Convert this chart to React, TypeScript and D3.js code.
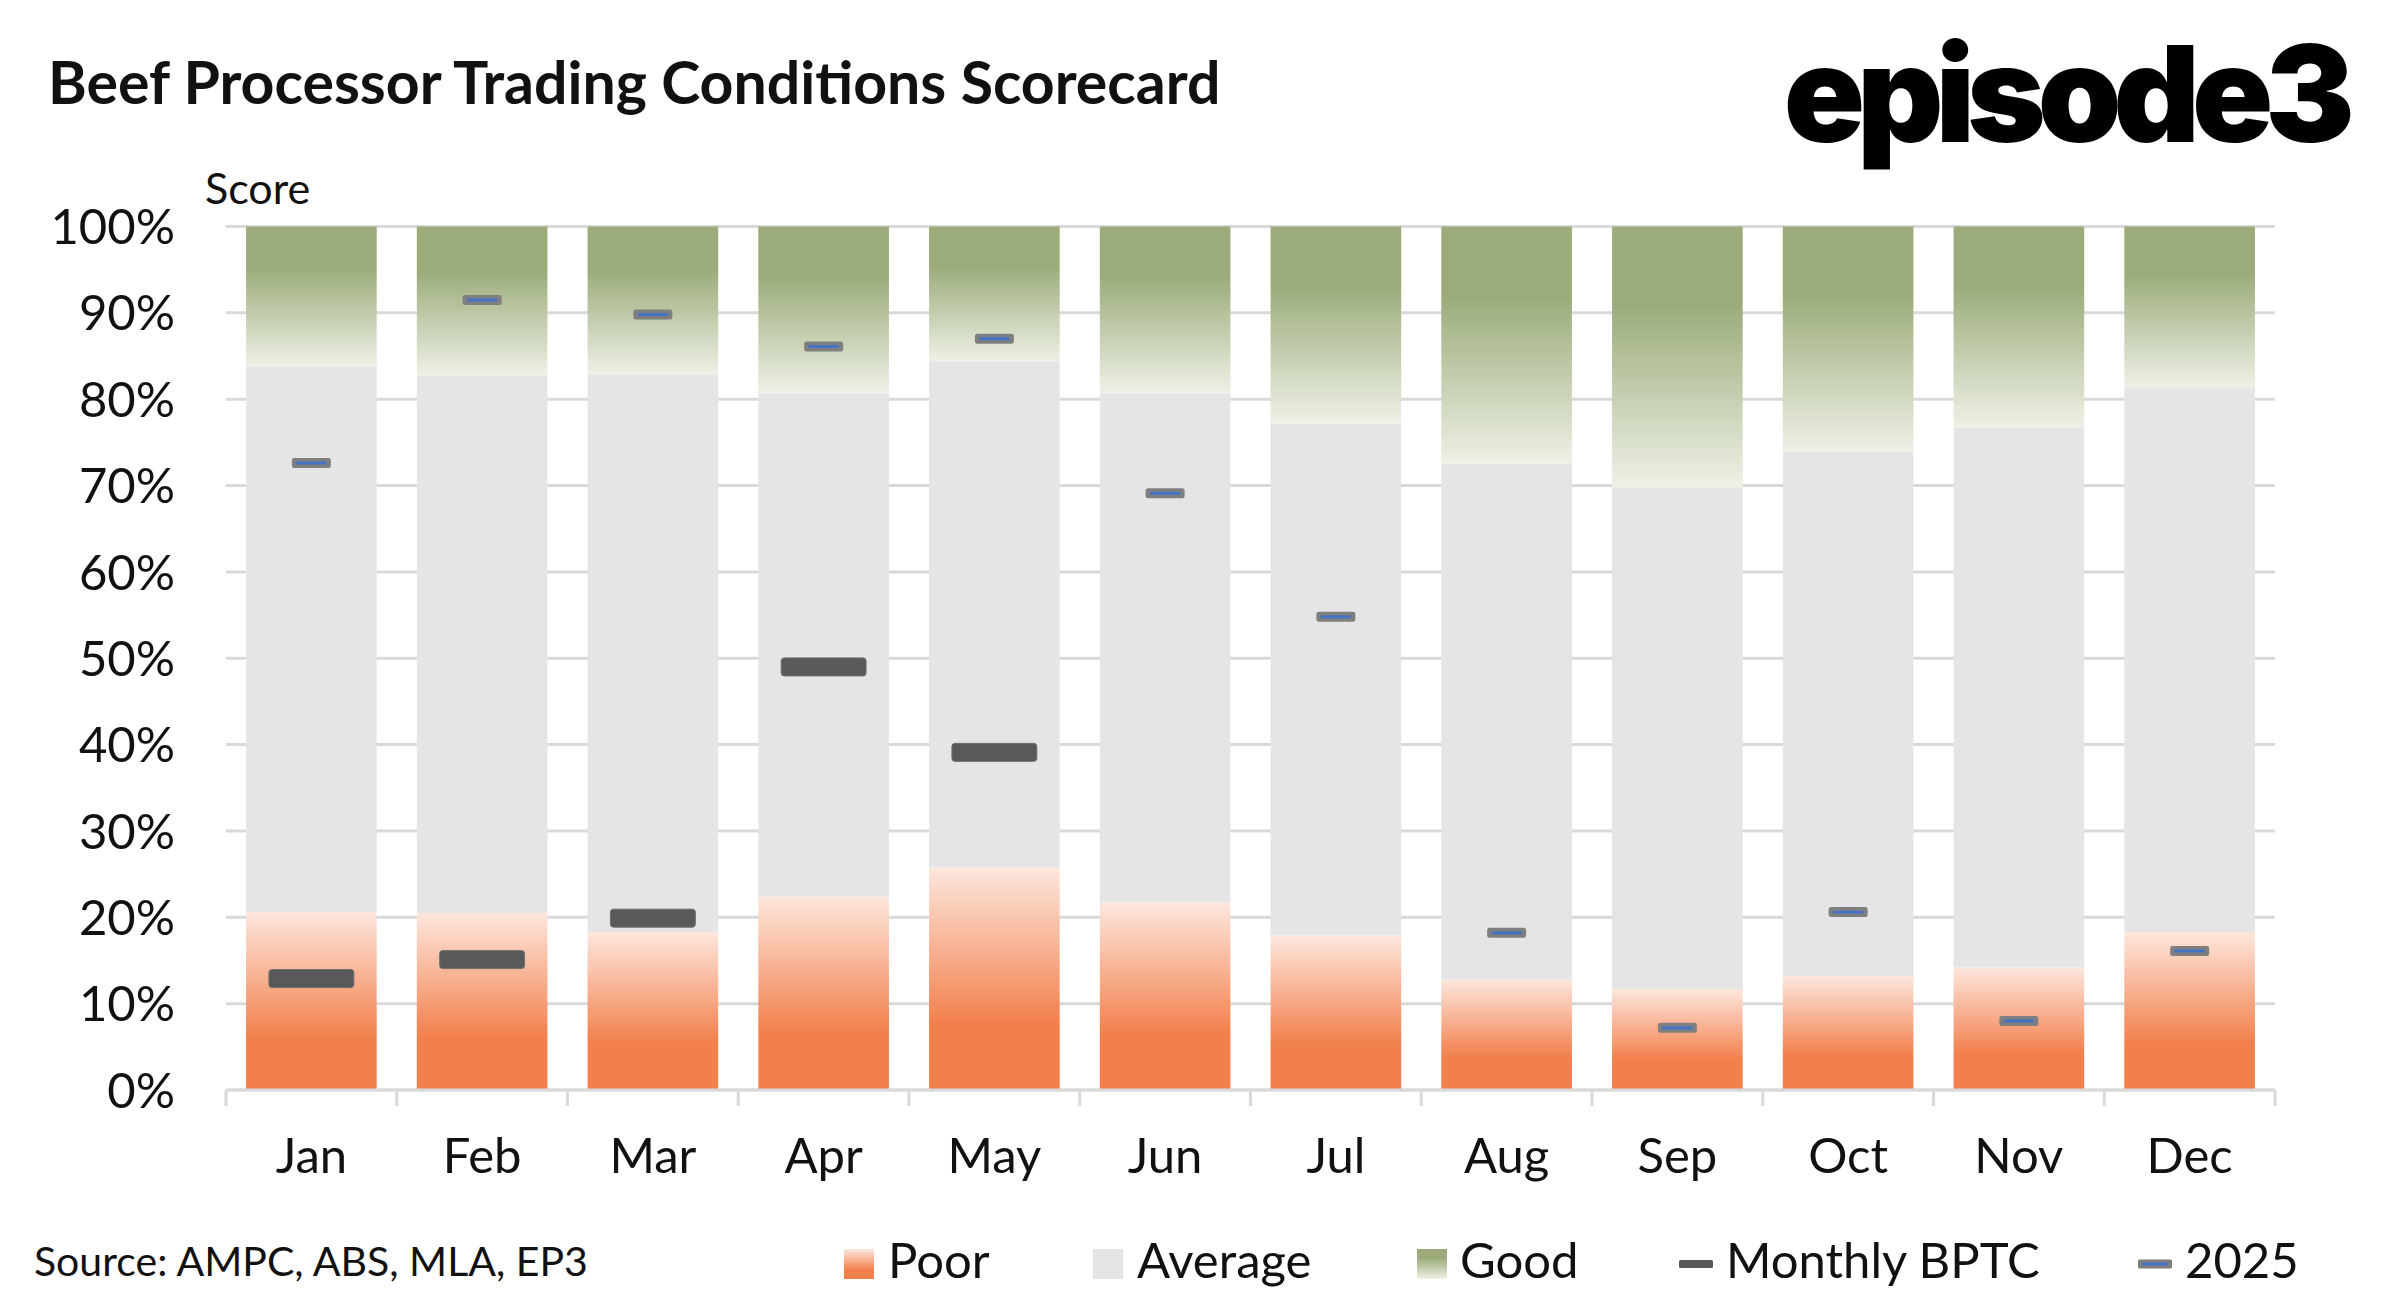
import React, { useRef, useEffect } from 'react';
import * as d3 from 'd3';

const months = ['Jan', 'Feb', 'Mar', 'Apr', 'May', 'Jun', 'Jul', 'Aug', 'Sep', 'Oct', 'Nov', 'Dec'];
const poor = [20.6, 20.5, 18.3, 22.4, 25.8, 21.7, 17.9, 12.8, 11.7, 13.2, 14.2, 18.3];
const average = [63.2, 62.2, 64.6, 58.3, 58.6, 59.0, 59.3, 59.7, 58.1, 60.7, 62.5, 63.1];
const good = [16.2, 17.3, 17.1, 19.3, 15.6, 19.3, 22.8, 27.5, 30.2, 26.1, 23.3, 18.6];
const monthlyBPTC: (number | null)[] = [12.9, 15.1, 19.9, 49.0, 39.1, null, null, null, null, null, null, null];
const score2025 = [72.6, 91.5, 89.8, 86.1, 87.0, 69.1, 54.8, 18.2, 7.2, 20.6, 8.0, 16.1];
const yTicks = [0, 10, 20, 30, 40, 50, 60, 70, 80, 90, 100];

const W = 2383;
const H = 1310;
const FONT = 'Lato, "Open Sans", sans-serif';

export default function App() {
    const svgRef = useRef<SVGSVGElement | null>(null);

    useEffect(() => {
        if (!svgRef.current) return;
        const svg = d3.select(svgRef.current);
        svg.selectAll('*').remove();

        const plot = { left: 226, right: 2275, top: 226.5, bottom: 1090 };

        const x = d3.scaleBand<string>()
            .domain(months)
            .range([plot.left, plot.right])
            .paddingInner(0.235)
            .paddingOuter(0.1175);
        const y = d3.scaleLinear().domain([0, 100]).range([plot.bottom, plot.top]);

        // gradients
        const defs = svg.append('defs');
        const poorGrad = defs.append('linearGradient').attr('id', 'poorGrad')
            .attr('x1', 0).attr('y1', 0).attr('x2', 0).attr('y2', 1);
        poorGrad.append('stop').attr('offset', 0).attr('stop-color', '#FDE7DD');
        poorGrad.append('stop').attr('offset', 0.7).attr('stop-color', '#F2804D');
        poorGrad.append('stop').attr('offset', 1).attr('stop-color', '#F2804D');
        const goodGrad = defs.append('linearGradient').attr('id', 'goodGrad')
            .attr('x1', 0).attr('y1', 0).attr('x2', 0).attr('y2', 1);
        goodGrad.append('stop').attr('offset', 0).attr('stop-color', '#9BAC7A');
        goodGrad.append('stop').attr('offset', 0.3).attr('stop-color', '#9BAC7A');
        goodGrad.append('stop').attr('offset', 1).attr('stop-color', '#EEF1E6');

        // title + logo
        svg.append('text')
            .attr('x', 48).attr('y', 104)
            .attr('font-family', FONT).attr('font-weight', 700).attr('font-size', 59)
            .attr('fill', '#111')
            .text('Beef Processor Trading Conditions Scorecard');

        svg.append('text')
            .attr('x', 2347).attr('y', 142)
            .attr('text-anchor', 'end')
            .attr('font-family', 'Inter, sans-serif').attr('font-weight', 900).attr('font-size', 134)
            .attr('letter-spacing', -8)
            .attr('fill', '#000')
            .text('episode3');

        // gridlines
        svg.append('g').selectAll('line')
            .data(yTicks)
            .enter().append('line')
            .attr('x1', plot.left).attr('x2', plot.right)
            .attr('y1', d => y(d)).attr('y2', d => y(d))
            .attr('stroke', '#D9D9D9').attr('stroke-width', 3);

        // y labels
        svg.append('g').selectAll('text')
            .data(yTicks)
            .enter().append('text')
            .attr('x', 175).attr('y', d => y(d))
            .attr('dy', '0.36em')
            .attr('text-anchor', 'end')
            .attr('font-family', FONT).attr('font-size', 49).attr('fill', '#111')
            .text(d => `${d}%`);

        svg.append('text')
            .attr('x', 205).attr('y', 204)
            .attr('font-family', FONT).attr('font-size', 43).attr('fill', '#111')
            .text('Score');

        // stacked bars
        const rows = months.map((m, i) => ({ month: m, Poor: poor[i], Average: average[i], Good: good[i] }));
        const series = d3.stack<any>().keys(['Poor', 'Average', 'Good'])(rows);
        const fills: Record<string, string> = { Poor: 'url(#poorGrad)', Average: '#E5E5E5', Good: 'url(#goodGrad)' };

        svg.append('g').selectAll('g')
            .data(series)
            .enter().append('g')
            .attr('fill', d => fills[d.key])
            .selectAll('rect')
            .data(d => d)
            .enter().append('rect')
            .attr('x', d => x(d.data.month)!)
            .attr('y', d => y(d[1]))
            .attr('width', x.bandwidth())
            .attr('height', d => y(d[0]) - y(d[1]));

        // axis line + ticks
        const axis = svg.append('g');
        axis.append('line')
            .attr('x1', plot.left).attr('x2', plot.right)
            .attr('y1', plot.bottom).attr('y2', plot.bottom)
            .attr('stroke', '#D9D9D9').attr('stroke-width', 3);
        const step = (plot.right - plot.left) / months.length;
        axis.selectAll('line.tick')
            .data(d3.range(months.length + 1))
            .enter().append('line')
            .attr('class', 'tick')
            .attr('x1', i => plot.left + i * step)
            .attr('x2', i => plot.left + i * step)
            .attr('y1', plot.bottom).attr('y2', plot.bottom + 16)
            .attr('stroke', '#D9D9D9').attr('stroke-width', 3);
        axis.selectAll('text')
            .data(months)
            .enter().append('text')
            .attr('x', d => x(d)! + x.bandwidth() / 2)
            .attr('y', 1173)
            .attr('text-anchor', 'middle')
            .attr('font-family', FONT).attr('font-size', 49).attr('fill', '#111')
            .text(d => d);

        // Monthly BPTC markers
        const bw = x.bandwidth();
        const bptcW = bw * 0.65;
        svg.append('g').selectAll('rect')
            .data(months.map((m, i) => ({ m, v: monthlyBPTC[i] })).filter(d => d.v != null))
            .enter().append('rect')
            .attr('x', d => x(d.m)! + bw / 2 - bptcW / 2)
            .attr('y', d => y(d.v as number) - 9)
            .attr('width', bptcW).attr('height', 18)
            .attr('rx', 3)
            .attr('fill', '#595959').attr('stroke', '#6e6e6e').attr('stroke-width', 1);

        // 2025 markers
        const m25 = svg.append('g').selectAll('g')
            .data(months.map((m, i) => ({ m, v: score2025[i] })))
            .enter().append('g')
            .attr('transform', d => `translate(${x(d.m)! + bw / 2},${y(d.v)})`);
        m25.append('rect')
            .attr('x', -19.5).attr('y', -5).attr('width', 39).attr('height', 10)
            .attr('rx', 2.5).attr('fill', '#7F7F7F');
        m25.append('line')
            .attr('x1', -15).attr('x2', 15).attr('y1', 0).attr('y2', 0)
            .attr('stroke', '#4472C4').attr('stroke-width', 3);

        // source
        svg.append('text')
            .attr('x', 34).attr('y', 1276)
            .attr('font-family', FONT).attr('font-size', 41).attr('fill', '#111')
            .text('Source: AMPC, ABS, MLA, EP3');

        // legend
        const lg = svg.append('g').attr('font-family', FONT).attr('font-size', 49).attr('fill', '#111');
        const ly = 1264;
        const legendItems = [
            { label: 'Poor', kind: 'swatch', fill: 'url(#poorGrad)', x: 844, tx: 888 },
            { label: 'Average', kind: 'swatch', fill: '#E5E5E5', x: 1093, tx: 1137 },
            { label: 'Good', kind: 'swatch', fill: 'url(#goodGrad)', x: 1417, tx: 1460 },
            { label: 'Monthly BPTC', kind: 'bptc', fill: '#595959', x: 1679, tx: 1726 },
            { label: '2025', kind: 'y2025', fill: '#7F7F7F', x: 2138, tx: 2185 },
        ];
        legendItems.forEach(it => {
            if (it.kind === 'swatch') {
                lg.append('rect').attr('x', it.x).attr('y', ly - 15).attr('width', 30).attr('height', 30).attr('fill', it.fill);
            } else if (it.kind === 'bptc') {
                lg.append('rect').attr('x', it.x).attr('y', ly - 4).attr('width', 34).attr('height', 8).attr('rx', 1.5).attr('fill', it.fill);
            } else {
                lg.append('rect').attr('x', it.x).attr('y', ly - 4.5).attr('width', 34).attr('height', 9).attr('rx', 1.5).attr('fill', it.fill);
                lg.append('line').attr('x1', it.x + 4).attr('x2', it.x + 30).attr('y1', ly).attr('y2', ly)
                    .attr('stroke', '#4472C4').attr('stroke-width', 3);
            }
            lg.append('text').attr('x', it.tx).attr('y', ly + 14).text(it.label);
        });
    }, []);

    return (
        <svg ref={svgRef} width={W} height={H}
            style={{ position: 'absolute', left: 0, top: 0, background: '#fff' }} />
    );
}
